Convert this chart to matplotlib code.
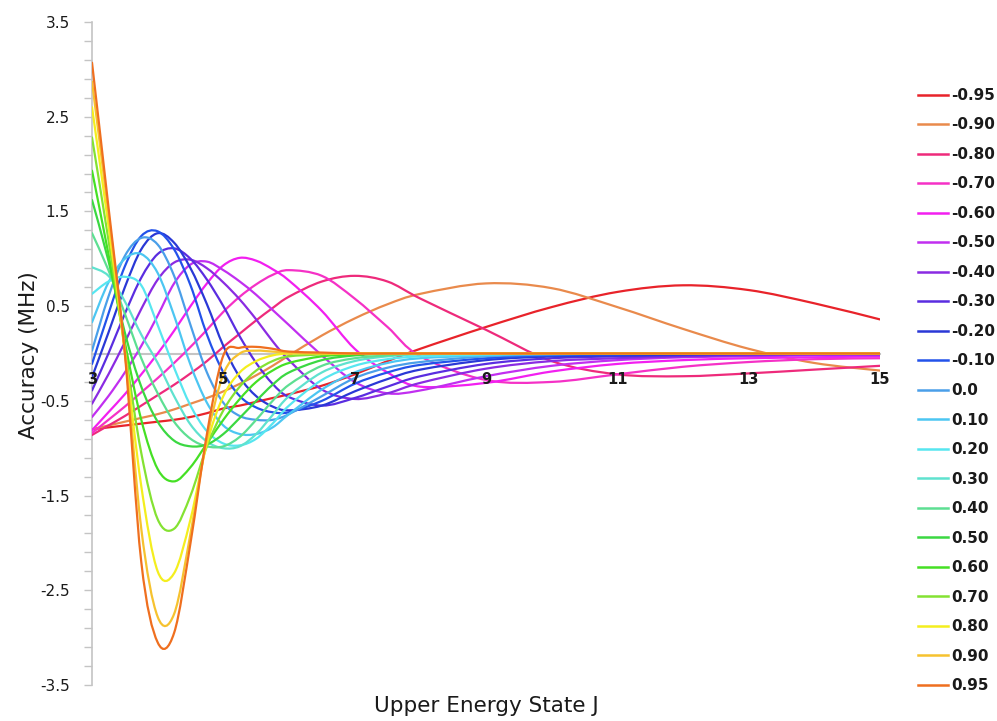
import matplotlib
matplotlib.use('Agg')
import matplotlib.pyplot as plt
from matplotlib.path import Path
from matplotlib.patches import PathPatch
from matplotlib.lines import Line2D
from matplotlib.ticker import MultipleLocator, FixedLocator
import numpy as np

plt.rcParams['axes.unicode_minus'] = False

# upper energy state J, sampled finer where the curves bend
j_grid = [3, 3.25, 3.5, 3.75, 4, 4.25, 4.5, 4.75, 5, 5.25, 5.5, 5.75, 6, 6.5, 7, 7.5, 8, 9, 10, 11, 12, 13, 14, 15]

kappa_labels = ['-0.95', '-0.90', '-0.80', '-0.70', '-0.60', '-0.50', '-0.40', '-0.30', '-0.20', '-0.10',
                '0.0', '0.10', '0.20', '0.30', '0.40', '0.50', '0.60', '0.70', '0.80', '0.90', '0.95']

colors = ['#e8232a', '#e98a4c', '#ee2a7b', '#f531c6', '#f21ff0', '#c12ff0', '#8a2be2', '#5a2de0', '#2a38d6', '#2352ea',
          '#4a9fe9', '#4cc6f2', '#57e6f0', '#5fe2cf', '#5ddf92', '#3bd842', '#45e024', '#84e232', '#f4ee1e', '#f6c22f', '#ef6f1f']

# accuracy (MHz) for each asymmetry value
k_m095 = [-0.80, -0.78, -0.76, -0.74, -0.72, -0.70, -0.67, -0.63, -0.58, -0.55, -0.51, -0.47, -0.43, -0.34, -0.22, -0.08, 0.05, 0.28, 0.49, 0.65, 0.72, 0.67, 0.53, 0.36]
k_m090 = [-0.80, -0.76, -0.72, -0.68, -0.64, -0.59, -0.53, -0.47, -0.40, -0.32, -0.23, -0.13, -0.02, 0.19, 0.37, 0.52, 0.63, 0.74, 0.69, 0.49, 0.26, 0.05, -0.10, -0.18]
k_m080 = [-0.86, -0.76, -0.66, -0.55, -0.44, -0.33, -0.21, -0.08, 0.07, 0.21, 0.35, 0.48, 0.60, 0.76, 0.82, 0.76, 0.58, 0.25, -0.08, -0.22, -0.24, -0.21, -0.17, -0.13]
k_m070 = [-0.84, -0.70, -0.56, -0.41, -0.26, -0.10, 0.07, 0.25, 0.44, 0.60, 0.73, 0.83, 0.88, 0.82, 0.58, 0.28, -0.03, -0.28, -0.30, -0.22, -0.14, -0.09, -0.06, -0.05]
k_m060 = [-0.81, -0.62, -0.43, -0.22, 0.00, 0.24, 0.50, 0.74, 0.93, 1.01, 0.98, 0.89, 0.77, 0.45, 0.05, -0.20, -0.35, -0.31, -0.19, -0.11, -0.07, -0.05, -0.04, -0.03]
k_m050 = [-0.67, -0.45, -0.20, 0.08, 0.40, 0.74, 0.94, 0.97, 0.88, 0.76, 0.62, 0.46, 0.30, -0.02, -0.30, -0.42, -0.39, -0.24, -0.13, -0.07, -0.04, -0.03, -0.02, -0.02]
k_m040 = [-0.53, -0.22, 0.12, 0.47, 0.78, 0.96, 0.99, 0.90, 0.75, 0.57, 0.36, 0.13, -0.07, -0.38, -0.48, -0.42, -0.31, -0.16, -0.08, -0.05, -0.03, -0.02, -0.01, -0.01]
k_m030 = [-0.39, 0.00, 0.42, 0.80, 1.05, 1.11, 1.00, 0.78, 0.50, 0.18, -0.10, -0.32, -0.46, -0.55, -0.47, -0.35, -0.24, -0.11, -0.05, -0.03, -0.02, -0.01, 0.00, 0.00]
k_m020 = [-0.25, 0.22, 0.70, 1.10, 1.27, 1.17, 0.90, 0.52, 0.08, -0.25, -0.45, -0.56, -0.60, -0.55, -0.40, -0.27, -0.17, -0.07, -0.03, -0.02, -0.01, 0.00, 0.00, 0.00]
k_m010 = [-0.11, 0.42, 0.92, 1.24, 1.29, 1.10, 0.72, 0.20, -0.20, -0.45, -0.57, -0.62, -0.62, -0.50, -0.32, -0.20, -0.12, -0.05, -0.02, -0.01, 0.00, 0.00, 0.00, 0.00]
k_000 = [0.03, 0.60, 1.03, 1.22, 1.15, 0.82, 0.30, -0.20, -0.52, -0.66, -0.70, -0.70, -0.64, -0.45, -0.26, -0.15, -0.09, -0.03, -0.01, 0.00, 0.00, 0.00, 0.00, 0.00]
k_010 = [0.33, 0.75, 1.00, 1.05, 0.85, 0.40, -0.12, -0.52, -0.76, -0.85, -0.85, -0.78, -0.64, -0.38, -0.20, -0.10, -0.05, -0.02, 0.00, 0.00, 0.00, 0.00, 0.00, 0.00]
k_020 = [0.63, 0.76, 0.81, 0.72, 0.30, -0.15, -0.55, -0.82, -0.95, -0.97, -0.90, -0.74, -0.55, -0.28, -0.13, -0.06, -0.03, -0.01, 0.00, 0.00, 0.00, 0.00, 0.00, 0.00]
k_030 = [0.91, 0.82, 0.55, 0.20, -0.10, -0.45, -0.75, -0.93, -1.00, -0.98, -0.85, -0.65, -0.45, -0.20, -0.08, -0.03, -0.01, 0.00, 0.00, 0.00, 0.00, 0.00, 0.00, 0.00]
k_040 = [1.27, 0.88, 0.42, -0.05, -0.42, -0.72, -0.90, -0.98, -0.98, -0.88, -0.70, -0.50, -0.33, -0.13, -0.05, -0.02, 0.00, 0.00, 0.00, 0.00, 0.00, 0.00, 0.00, 0.00]
k_050 = [1.62, 0.98, 0.22, -0.35, -0.72, -0.92, -0.98, -0.96, -0.85, -0.68, -0.50, -0.33, -0.20, -0.07, -0.02, 0.00, 0.00, 0.00, 0.00, 0.00, 0.00, 0.00, 0.00, 0.00]
k_060 = [1.93, 1.05, 0.12, -0.70, -1.22, -1.35, -1.20, -0.95, -0.70, -0.48, -0.30, -0.18, -0.10, -0.03, -0.01, 0.00, 0.00, 0.00, 0.00, 0.00, 0.00, 0.00, 0.00, 0.00]
k_070 = [2.28, 1.20, 0.05, -1.05, -1.75, -1.85, -1.50, -0.98, -0.60, -0.35, -0.18, -0.08, -0.03, -0.01, 0.00, 0.00, 0.00, 0.00, 0.00, 0.00, 0.00, 0.00, 0.00, 0.00]
k_080 = [2.60, 1.35, 0.02, -1.40, -2.30, -2.32, -1.75, -0.95, -0.45, -0.20, -0.08, -0.02, 0.00, 0.00, 0.00, 0.00, 0.00, 0.00, 0.00, 0.00, 0.00, 0.00, 0.00, 0.00]
k_090 = [2.87, 1.48, 0.02, -1.85, -2.78, -2.75, -1.90, -0.90, -0.22, 0.00, 0.03, 0.02, 0.01, 0.00, 0.00, 0.00, 0.00, 0.00, 0.00, 0.00, 0.00, 0.00, 0.00, 0.00]
k_095 = [3.07, 1.55, 0.00, -2.20, -3.05, -2.95, -2.00, -0.85, -0.02, 0.06, 0.07, 0.05, 0.02, 0.01, 0.00, 0.00, 0.00, 0.00, 0.00, 0.00, 0.00, 0.00, 0.00, 0.00]

series = [k_m095, k_m090, k_m080, k_m070, k_m060, k_m050, k_m040, k_m030, k_m020, k_m010,
          k_000, k_010, k_020, k_030, k_040, k_050, k_060, k_070, k_080, k_090, k_095]


def smooth_path(xs, ys):
    # excel-style smoothed line: bezier segments through the data points
    p = np.column_stack([xs, ys]).astype(float)
    n = len(p)
    verts = [p[0]]
    codes = [Path.MOVETO]
    for i in range(n - 1):
        prev = p[i - 1] if i > 0 else p[i]
        nxt = p[i + 2] if i + 2 < n else p[i + 1]
        verts += [p[i] + (p[i + 1] - prev) / 6, p[i + 1] - (nxt - p[i]) / 6, p[i + 1]]
        codes += [Path.CURVE4] * 3
    return Path(verts, codes)


fig = plt.figure(figsize=(9.97, 7.21), dpi=100)
ax = fig.add_axes([0.0923, 0.0499, 0.7903, 0.9196])

for vals, col in zip(series, colors):
    ax.add_patch(PathPatch(smooth_path(j_grid, vals), facecolor='none', edgecolor=col,
                           lw=1.6, zorder=3, capstyle='round', joinstyle='round'))

ax.set_xlim(3, 15)
ax.set_ylim(-3.5, 3.5)

for s in ['top', 'right']:
    ax.spines[s].set_visible(False)
ax.spines['left'].set_color('#c4c4c4')
ax.spines['left'].set_linewidth(1.2)
ax.spines['bottom'].set_position(('data', 0))
ax.spines['bottom'].set_color('#c4c4c4')
ax.spines['bottom'].set_linewidth(1.5)

ax.xaxis.set_major_locator(FixedLocator([3, 5, 7, 9, 11, 13, 15]))
ax.tick_params(axis='x', length=0, pad=13, labelsize=10.5, labelcolor='#1a1a1a')
for t in ax.get_xticklabels():
    t.set_fontweight('bold')
ax.xaxis.set_zorder(4)

ax.yaxis.set_major_locator(FixedLocator([-3.5, -2.5, -1.5, -0.5, 0.5, 1.5, 2.5, 3.5]))
ax.yaxis.set_minor_locator(MultipleLocator(0.2, offset=0.1))
ax.yaxis.set_major_formatter(lambda v, pos: f'{v:.1f}')
ax.tick_params(axis='y', which='both', direction='out', length=6, width=1, color='#c4c4c4',
               pad=10, labelsize=11, labelcolor='#1a1a1a')

fig.text(0.029, 0.508, 'Accuracy (MHz)', rotation=90, ha='center', va='center', fontsize=15.5, color='#1a1a1a')
fig.text(0.4875, 0.021, 'Upper Energy State J', ha='center', va='center', fontsize=15.5, color='#1a1a1a')

handles = [Line2D([], [], color=c, lw=1.8) for c in colors]
fig.legend(handles, kappa_labels, loc='center left', bbox_to_anchor=(0.9208, 0.4584),
           frameon=False, prop={'weight': 'bold', 'size': 11}, handlelength=1.96,
           handletextpad=0.2, labelspacing=0.95, borderpad=0, borderaxespad=0, labelcolor='#1a1a1a')

fig.savefig('out.png', dpi=100)
